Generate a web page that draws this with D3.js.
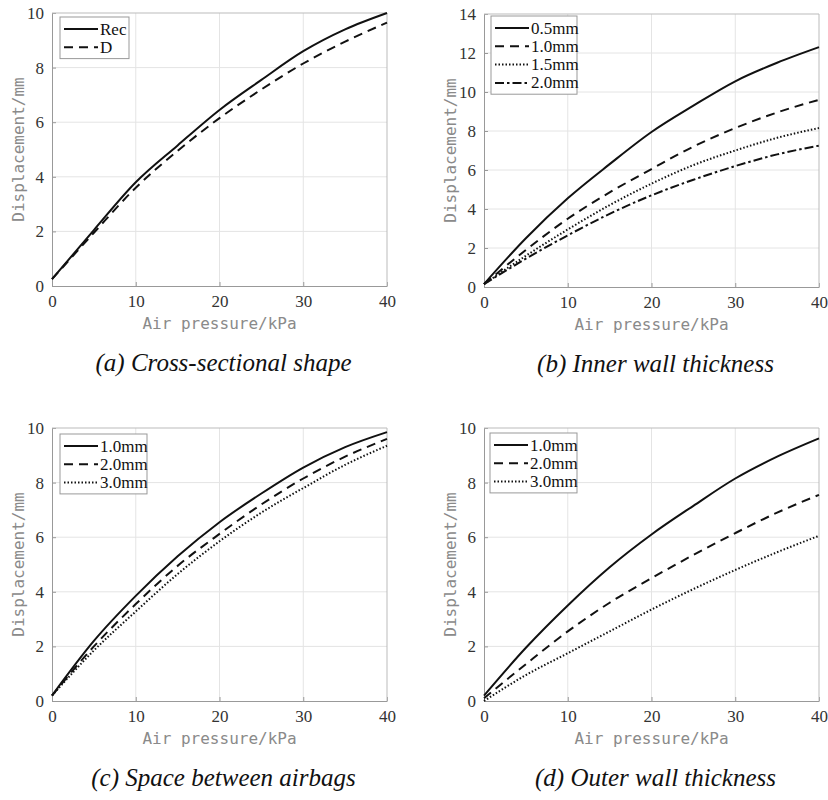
<!DOCTYPE html>
<html>
<head>
<meta charset="utf-8">
<script src="https://cdn.jsdelivr.net/npm/d3@7"></script>
<style>
  body { margin: 0; background: #fff; }
</style>
</head>
<body>
<div id="container"></div>
<script>
let w = 828;
let h = 800;

// pressure values (kPa) shared by all curves
let pressure = [0, 5, 10, 15, 20, 25, 30, 35, 40];

// (a) cross-sectional shape
let shapeNames = ["Rec", "D"];
let shapeRec = [0.25, 2.05, 3.8, 5.15, 6.45, 7.55, 8.6, 9.4, 10.0];
let shapeD   = [0.25, 1.95, 3.6, 4.95, 6.15, 7.2, 8.15, 8.95, 9.65];

// (b) inner wall thickness
let innerNames = ["0.5mm", "1.0mm", "1.5mm", "2.0mm"];
let inner05 = [0.15, 2.5, 4.55, 6.3, 7.95, 9.3, 10.55, 11.5, 12.3];
let inner10 = [0.15, 1.9, 3.5, 4.85, 6.05, 7.2, 8.15, 8.95, 9.6];
let inner15 = [0.15, 1.6, 2.95, 4.2, 5.3, 6.25, 7.0, 7.65, 8.15];
let inner20 = [0.15, 1.45, 2.65, 3.75, 4.7, 5.5, 6.2, 6.8, 7.25];

// (c) space between airbags
let spaceNames = ["1.0mm", "2.0mm", "3.0mm"];
let space10 = [0.2, 2.2, 3.85, 5.3, 6.55, 7.6, 8.55, 9.3, 9.85];
let space20 = [0.2, 2.0, 3.55, 4.95, 6.12, 7.2, 8.15, 8.95, 9.6];
let space30 = [0.2, 1.85, 3.28, 4.65, 5.85, 6.9, 7.8, 8.65, 9.35];

// (d) outer wall thickness
let outerNames = ["1.0mm", "2.0mm", "3.0mm"];
let outer10 = [0.2, 1.95, 3.5, 4.9, 6.1, 7.15, 8.15, 8.95, 9.62];
let outer20 = [0.1, 1.35, 2.55, 3.6, 4.5, 5.35, 6.15, 6.9, 7.55];
let outer30 = [0.0, 0.95, 1.75, 2.55, 3.35, 4.1, 4.8, 5.45, 6.05];

let xTicks = [0, 10, 20, 30, 40];
let captions = ["(a) Cross-sectional shape", "(b) Inner wall thickness",
                "(c) Space between airbags", "(d) Outer wall thickness"];
let xTitle = "Air pressure/kPa";
let yTitle = "Displacement/mm";

// line styles: solid, dashed, dotted, dash-dot
let dashes = [null, "9,6", "1.5,2", "9,3,2.5,3"];

let serif = "'Liberation Serif', 'Times New Roman', serif";
let mono = "'DejaVu Sans Mono', monospace";

let panels = [
  {left: 52, top: 13, ymax: 10, yTicks: [0,2,4,6,8,10], names: shapeNames, series: [shapeRec, shapeD], legend: [60, 17, 69]},
  {left: 484, top: 14, ymax: 14, yTicks: [0,2,4,6,8,10,12,14], names: innerNames, series: [inner05, inner10, inner15, inner20], legend: [491, 16, 86]},
  {left: 52, top: 428, ymax: 10, yTicks: [0,2,4,6,8,10], names: spaceNames, series: [space10, space20, space30], legend: [60, 434, 87]},
  {left: 484, top: 428, ymax: 10, yTicks: [0,2,4,6,8,10], names: outerNames, series: [outer10, outer20, outer30], legend: [490, 433, 87]}
];
let pw = 335;
let ph = 273;

let viz = d3.select("#container").append("svg")
    .attr("width", w)
    .attr("height", h)
    .style("background-color", "white");

panels.forEach(function(p, pi){
  let g = viz.append("g").attr("transform", "translate(" + p.left + "," + p.top + ")");

  let xScale = d3.scaleLinear().domain([0, 40]).range([0, pw]);
  let yScale = d3.scaleLinear().domain([0, p.ymax]).range([ph, 0]);

  // grid
  g.append("g").selectAll("line").data(xTicks.slice(1, -1)).enter().append("line")
    .attr("x1", d => xScale(d)).attr("x2", d => xScale(d))
    .attr("y1", 0).attr("y2", ph)
    .attr("stroke", "#e4e4e4").attr("stroke-width", 1);
  g.append("g").selectAll("line").data(p.yTicks.slice(1, -1)).enter().append("line")
    .attr("x1", 0).attr("x2", pw)
    .attr("y1", d => yScale(d)).attr("y2", d => yScale(d))
    .attr("stroke", "#e4e4e4").attr("stroke-width", 1);

  // axes
  let xAxis = d3.axisBottom(xScale).tickValues(xTicks).tickSizeInner(-4).tickSizeOuter(0).tickPadding(9);
  let xAxisGroup = g.append("g").attr("transform", "translate(0," + ph + ")").call(xAxis);
  let yAxis = d3.axisLeft(yScale).tickValues(p.yTicks).tickSizeInner(-4).tickSizeOuter(0).tickPadding(8);
  let yAxisGroup = g.append("g").call(yAxis);
  [xAxisGroup, yAxisGroup].forEach(function(ag){
    ag.select(".domain").attr("stroke", "#999");
    ag.selectAll(".tick line").attr("stroke", "#999");
    ag.selectAll(".tick text")
      .style("font-family", serif)
      .style("font-size", "17px")
      .attr("fill", "#333");
  });
  // top and right box edges
  g.append("line").attr("x1", 0).attr("x2", pw).attr("y1", 0).attr("y2", 0).attr("stroke", "#bbb");
  g.append("line").attr("x1", pw).attr("x2", pw).attr("y1", 0).attr("y2", ph).attr("stroke", "#bbb");

  // curves
  let line = d3.line()
    .x((d, i) => xScale(pressure[i]))
    .y(d => yScale(d))
    .curve(d3.curveMonotoneX);
  p.series.forEach(function(s, si){
    g.append("path")
      .datum(s)
      .attr("d", line)
      .attr("fill", "none")
      .attr("stroke", "#111")
      .attr("stroke-width", 2)
      .attr("stroke-dasharray", dashes[si]);
  });

  // titles
  g.append("text")
    .style("font-family", mono).style("font-size", "16px")
    .attr("fill", "#8a8a8a")
    .attr("text-anchor", "middle")
    .attr("x", pw / 2).attr("y", ph + 43)
    .text(xTitle);
  g.append("text")
    .style("font-family", mono).style("font-size", "16px")
    .attr("fill", "#8a8a8a")
    .attr("text-anchor", "middle")
    .attr("transform", "translate(-28," + ph / 2 + ") rotate(-90)")
    .text(yTitle);
  g.append("text")
    .style("font-family", serif).style("font-size", "25px").style("font-style", "italic")
    .attr("fill", "#111")
    .attr("text-anchor", "middle")
    .attr("x", pw / 2 + 4).attr("y", ph + 85)
    .text(captions[pi]);

  // legend
  let lx = p.legend[0] - p.left;
  let ly = p.legend[1] - p.top;
  let lg = g.append("g").attr("transform", "translate(" + lx + "," + ly + ")");
  lg.append("rect")
    .attr("width", p.legend[2]).attr("height", p.names.length * 18.3 + 5)
    .attr("fill", "white").attr("stroke", "#999");
  p.names.forEach(function(name, ni){
    let yy = 12 + ni * 18.3;
    lg.append("line")
      .attr("x1", 4).attr("x2", 38).attr("y1", yy).attr("y2", yy)
      .attr("stroke", "#111").attr("stroke-width", 2)
      .attr("stroke-dasharray", dashes[ni]);
    lg.append("text")
      .style("font-family", serif).style("font-size", "17px")
      .attr("fill", "#111")
      .attr("x", 40).attr("y", yy + 5.5).text(name);
  });
});
</script>
</body>
</html>
